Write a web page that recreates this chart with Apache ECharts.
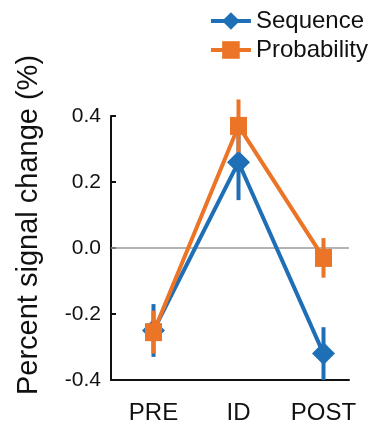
<!DOCTYPE html>
<html>
<head>
<meta charset="utf-8">
<script src="https://cdn.jsdelivr.net/npm/echarts@6/dist/echarts.min.js"></script>
<style>html,body{margin:0;padding:0;background:#fff}#c{width:374px;height:425px}</style>
</head>
<body>
<div id="c"></div>
<script>
var categories = ['PRE', 'ID', 'POST'];
var seqMean = [-0.25, 0.26, -0.32];
var seqErr = [0.08, 0.115, 0.08];
var probMean = [-0.255, 0.37, -0.03];
var probErr = [0.065, 0.08, 0.06];
var yTicks = [-0.4, -0.2, 0.0, 0.2, 0.4];

var BLUE = '#1f6fb6';
var ORANGE = '#eb7427';
var FONT = 'Liberation Sans, Arial, sans-serif';

function pts(means) { return means.map(function (v, i) { return [i + 1, v]; }); }
function errData(means, errs) { return means.map(function (v, i) { return [i + 1, v - errs[i], v + errs[i]]; }); }
function errRender(color) {
  return function (params, api) {
    var a = api.coord([api.value(0), api.value(1)]);
    var b = api.coord([api.value(0), api.value(2)]);
    return { type: 'line', shape: { x1: a[0], y1: a[1], x2: b[0], y2: b[1] }, style: { stroke: color, lineWidth: 4 } };
  };
}

var chart = echarts.init(document.getElementById('c'), null, { renderer: 'canvas' });
chart.setOption({
  animation: false,
  textStyle: { fontFamily: FONT },
  grid: { left: 111, right: 25, top: 116, bottom: 44, containLabel: false },
  legend: {
    orient: 'vertical', right: 6, top: 9, padding: 0, itemWidth: 40, itemHeight: 22, itemGap: 5,
    lineStyle: { width: 4 },
    textStyle: { fontSize: 24, color: '#111', fontFamily: FONT },
    data: ['Sequence', 'Probability']
  },
  xAxis: {
    type: 'value', min: 0.5, max: 3.3,
    axisLine: { show: true, onZero: false, lineStyle: { color: '#111', width: 2 } },
    axisTick: { show: false },
    splitLine: { show: false },
    axisLabel: {
      customValues: [1, 2, 3], fontSize: 24, color: '#111', margin: 21,
      formatter: function (v) { return categories[Math.round(v) - 1] || ''; }
    }
  },
  yAxis: {
    type: 'value', min: yTicks[0], max: yTicks[yTicks.length - 1], interval: 0.2,
    name: 'Percent signal change (%)', nameLocation: 'middle', nameGap: 68,
    nameTextStyle: { fontSize: 29, color: '#111', fontFamily: FONT, padding: [0, 0, 0, 46] },
    axisLine: { show: true, onZero: false, lineStyle: { color: '#111', width: 2 } },
    axisTick: { show: true, inside: true, length: 5, lineStyle: { color: '#111', width: 2 } },
    splitLine: { show: false },
    axisLabel: { fontSize: 21, color: '#111', margin: 10, formatter: function (v) { return v.toFixed(1); } }
  },
  series: [
    {
      name: 'Sequence', type: 'line', data: pts(seqMean), z: 3,
      symbol: 'diamond', symbolSize: 23,
      lineStyle: { color: BLUE, width: 4 }, itemStyle: { color: BLUE },
      markLine: {
        silent: true, symbol: 'none', label: { show: false }, z: 1,
        lineStyle: { color: '#9a9a9a', width: 1.5, type: 'solid' },
        data: [{ yAxis: 0 }]
      }
    },
    {
      type: 'custom', renderItem: errRender(BLUE), data: errData(seqMean, seqErr), z: 2,
      encode: { x: 0, y: [1, 2] }, silent: true
    },
    {
      type: 'custom', renderItem: errRender(ORANGE), data: errData(probMean, probErr), z: 4,
      encode: { x: 0, y: [1, 2] }, silent: true
    },
    {
      name: 'Probability', type: 'line', data: pts(probMean), z: 5,
      symbol: 'rect', symbolSize: [17, 18],
      lineStyle: { color: ORANGE, width: 4 }, itemStyle: { color: ORANGE }
    }
  ]
});
</script>
</body>
</html>
